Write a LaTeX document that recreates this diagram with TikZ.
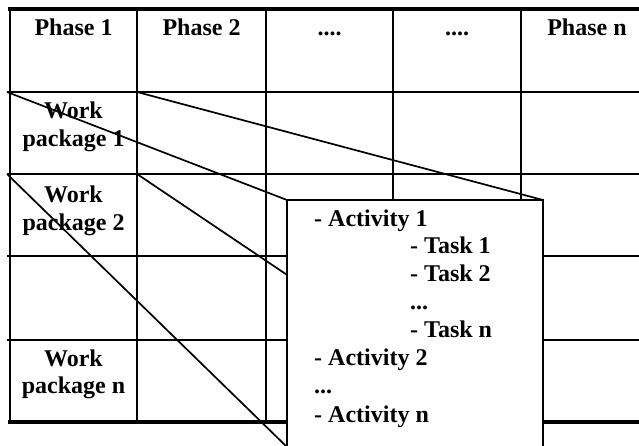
\documentclass[tikz,border=0pt]{standalone}
\usepackage{fontspec}
\setmainfont{Liberation Serif}
\usepackage{tikz}

\begin{document}
\begin{tikzpicture}[x=1pt,y=-1pt,
        gridline/.style={line width=2.6pt},
        rimline/.style={line width=3.8pt},
        zoomline/.style={line width=1.7pt},
        cell/.style={anchor=base,inner sep=0pt,font=\fontsize{24}{28}\selectfont\bfseries},
        item/.style={anchor=base west,inner sep=0pt,font=\fontsize{24}{28}\selectfont\bfseries}]
        \useasboundingbox (0,0) rectangle (639,445);
        \clip (0,0) rectangle (639,445);
        % table
        \draw[rimline] (8,9) -- (650,9);
        \draw[rimline] (8,422) -- (650,422);
        \draw[gridline] (10,9) -- (10,422);
        \draw[gridline] (137,9) -- (137,422);
        \draw[gridline] (266,9) -- (266,422);
        \draw[gridline] (393,9) -- (393,422);
        \draw[gridline] (521,9) -- (521,422);
        \draw[gridline] (7,92) -- (650,92);
        \draw[gridline] (7,174) -- (650,174);
        \draw[gridline] (7,256) -- (650,256);
        \draw[gridline] (7,340) -- (650,340);
        % corners of the zoomed cell and of the detail sheet
        \coordinate (wptl) at (7,92);
        \coordinate (wptr) at (137,92);
        \coordinate (wpbl) at (7,174);
        \coordinate (wpbr) at (137,174);
        \coordinate (dtl) at (287,200);
        \coordinate (dtr) at (543,200);
        \coordinate (dbl) at (287,447);
        \coordinate (dbr) at (543,447);
        \draw[zoomline] (wptl) -- (dtl);
        \draw[zoomline] (wptr) -- (dtr);
        \draw[zoomline] (wpbl) -- (dbl);
        \draw[zoomline] (wpbr) -- (dbr);
        \filldraw[fill=white,line width=1.4pt] (dtl) rectangle (dbr);
        % headings
        \draw node[cell] (ph1) at (73.5,35) {Phase 1};
        \draw node[cell] (ph2) at (201.5,35) {Phase 2};
        \draw node[cell] (ph3) at (329.5,35) {....};
        \draw node[cell] (ph4) at (457,35) {....};
        \draw node[cell] (phn) at (587,35) {Phase n};
        \draw node[cell] (wp1a) at (73.5,118) {Work};
        \draw node[cell] (wp1b) at (73.5,146) {package 1};
        \draw node[cell] (wp2a) at (73.5,202) {Work};
        \draw node[cell] (wp2b) at (73.5,230) {package 2};
        \draw node[cell] (wpna) at (73.5,366) {Work};
        \draw node[cell] (wpnb) at (73.5,393) {package n};
        % detail sheet
        \draw node[item] (act1) at (314,226) {- Activity 1};
        \draw node[item] (task1) at (410,253) {- Task 1};
        \draw node[item] (task2) at (410,281) {- Task 2};
        \draw node[item] (taskdots) at (410,309) {...};
        \draw node[item] (taskn) at (410,337) {- Task n};
        \draw node[item] (act2) at (314,365) {- Activity 2};
        \draw node[item] (actdots) at (314,393) {...};
        \draw node[item] (actn) at (314,422) {- Activity n};
    \end{tikzpicture}
\end{document}
